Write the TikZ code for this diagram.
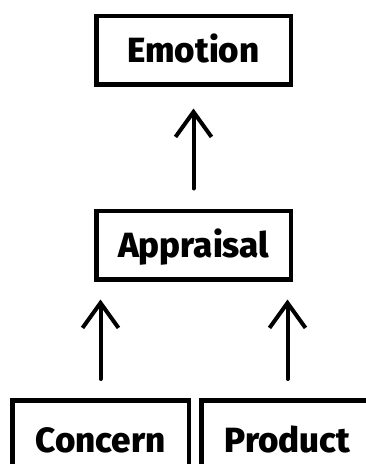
\documentclass[tikz,border=0pt]{standalone}
\usepackage{fontspec}
\setmainfont{Fira Sans}
\newfontfamily\heavyfont{Fira Sans ExtraBold}
\usetikzlibrary{arrows.meta}
\begin{document}
\begin{tikzpicture}[x=1pt,y=-1pt,
  box/.style={draw, line width=4.5pt, inner sep=0pt, font=\heavyfont\fontsize{35}{40}\selectfont, text height=24pt, text depth=0pt},
  wide/.style={box, minimum width=194.5pt, minimum height=68.5pt},
  low/.style={box, minimum height=79.5pt},
  arr/.style={line width=4pt, line cap=round, -{Straight Barb[length=25pt,width=36pt]}}]
\useasboundingbox (0,0) rectangle (366,464);
\clip (0,0) rectangle (366,464);
\node[wide] (emo) at (193.5,50) {Emotion};
\node[wide] (app) at (193.5,245) {Appraisal};
\node[low, minimum width=176.5pt] (con) at (100.5,440) {Concern};
\node[low, minimum width=172.5pt] (pro) at (287.5,440) {Product};
\draw[arr] ([yshift=20pt]app.north) -- ([yshift=-22pt]emo.south);
\draw[arr] ([yshift=19pt]con.north) -- ([yshift=-18pt]con.north |- app.south);
\draw[arr] ([yshift=19pt]pro.north) -- ([yshift=-18pt]pro.north |- app.south);
\end{tikzpicture}
\end{document}
